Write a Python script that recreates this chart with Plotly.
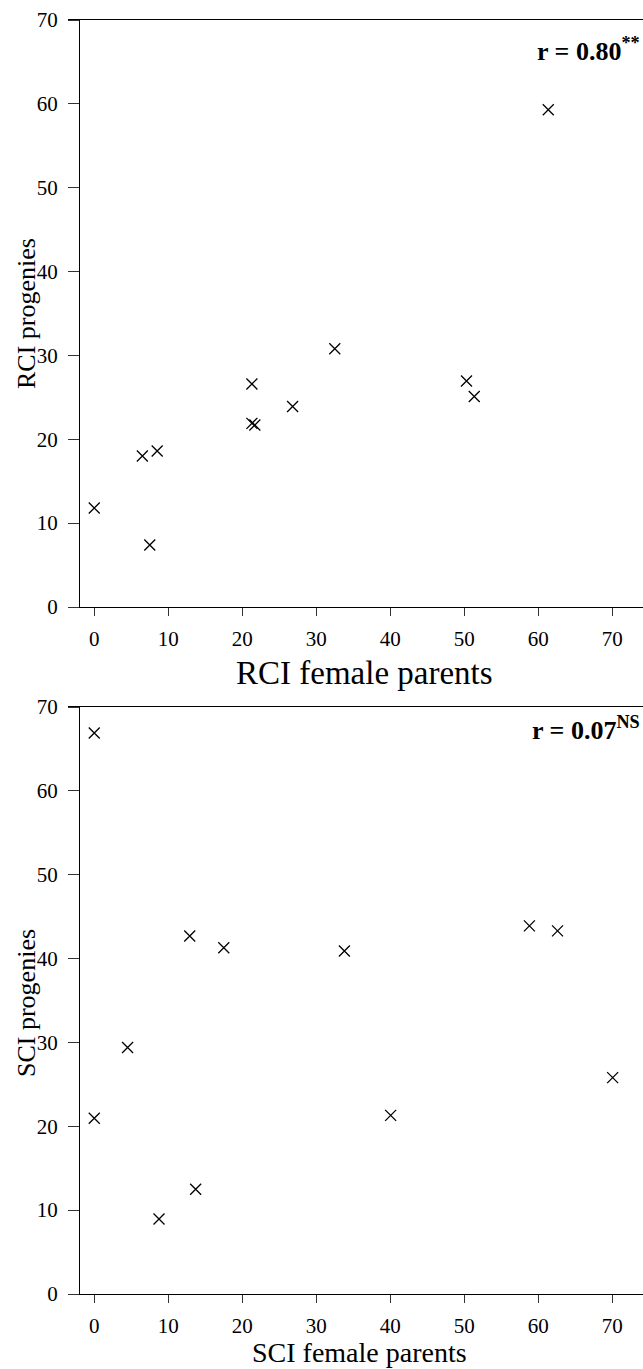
import plotly.graph_objects as go

# Rice cold index (RCI) of female parents vs. their progenies
rci_parents = [0.0, 7.5, 6.5, 8.5, 21.3, 21.3, 21.7, 26.8, 32.5, 50.3, 51.35, 61.35]
rci_progenies = [11.8, 7.4, 18.0, 18.6, 26.6, 21.9, 21.7, 23.9, 30.8, 26.95, 25.1, 59.3]

# Seedling cold index (SCI) of female parents vs. their progenies
sci_parents = [0.0, 12.9, 17.5, 4.5, 0.0, 8.75, 13.7, 33.8, 58.8, 62.6, 70.05, 40.05]
sci_progenies = [66.9, 42.7, 41.3, 29.4, 20.95, 8.94, 12.5, 40.9, 43.9, 43.3, 25.8, 21.3]

tick_vals = [0, 10, 20, 30, 40, 50, 60, 70]

W, H = 643, 1369
FONT = "Liberation Serif"


def px_x(p):
    return p / W


def px_y(p):
    return 1 - p / H


fig = go.Figure()

marker = dict(symbol="x-thin", size=11, color="black",
              line=dict(width=1.3, color="black"))

fig.add_trace(go.Scatter(x=rci_parents, y=rci_progenies, mode="markers",
                         marker=marker, xaxis="x", yaxis="y",
                         showlegend=False, cliponaxis=False))
fig.add_trace(go.Scatter(x=sci_parents, y=sci_progenies, mode="markers",
                         marker=marker, xaxis="x2", yaxis="y2",
                         showlegend=False, cliponaxis=False))

x_domain = [px_x(68), 1.0]
x_range = [-3.55, 74.15]
y_pos = px_x(79)

common_x = dict(domain=x_domain, range=x_range, tickvals=tick_vals,
                showline=True, linecolor="black", linewidth=1, mirror=True,
                ticks="outside", ticklen=8, tickwidth=1, tickcolor="#333",
                showgrid=False, zeroline=False, automargin=False,
                tickfont=dict(family=FONT, size=21, color="black"),
                ticklabelstandoff=5)
common_y = dict(range=[0, 70], tickvals=tick_vals, anchor="free",
                position=y_pos, showline=True, linecolor="black", linewidth=1,
                ticks="outside", ticklen=11, tickwidth=1, tickcolor="#333",
                showgrid=False, zeroline=False, automargin=False,
                tickfont=dict(family=FONT, size=21, color="black"),
                ticklabelstandoff=6)

fig.update_layout(
    width=W, height=H,
    margin=dict(l=0, r=0, t=0, b=0, autoexpand=False),
    paper_bgcolor="white", plot_bgcolor="white",
    xaxis=dict(anchor="y", **common_x),
    yaxis=dict(domain=[px_y(607), px_y(20)], **common_y),
    xaxis2=dict(anchor="y2", **common_x),
    yaxis2=dict(domain=[px_y(1294), px_y(707)], **common_y),
)

annotations = [
    dict(text="RCI female parents", x=px_x(364), y=px_y(673),
         font=dict(family=FONT, size=33, color="black")),
    dict(text="SCI female parents", x=px_x(359), y=px_y(1352),
         font=dict(family=FONT, size=28, color="black")),
    dict(text="RCI progenies", x=px_x(26), y=px_y(314), textangle=-90,
         font=dict(family=FONT, size=26, color="black")),
    dict(text="SCI progenies", x=px_x(26), y=px_y(1003), textangle=-90,
         font=dict(family=FONT, size=26, color="black")),
    dict(text="<b>r = 0.80<sup>**</sup></b>", x=px_x(642), y=px_y(50),
         xanchor="right", font=dict(family=FONT, size=26, color="black")),
    dict(text="<b>r = 0.07<sup>NS</sup></b>", x=px_x(642), y=px_y(728),
         xanchor="right", font=dict(family=FONT, size=26, color="black")),
]
for a in annotations:
    a.setdefault("xanchor", "center")
    a.update(xref="paper", yref="paper", yanchor="middle", showarrow=False)
fig.update_layout(annotations=annotations)

fig.write_html("out.html")
